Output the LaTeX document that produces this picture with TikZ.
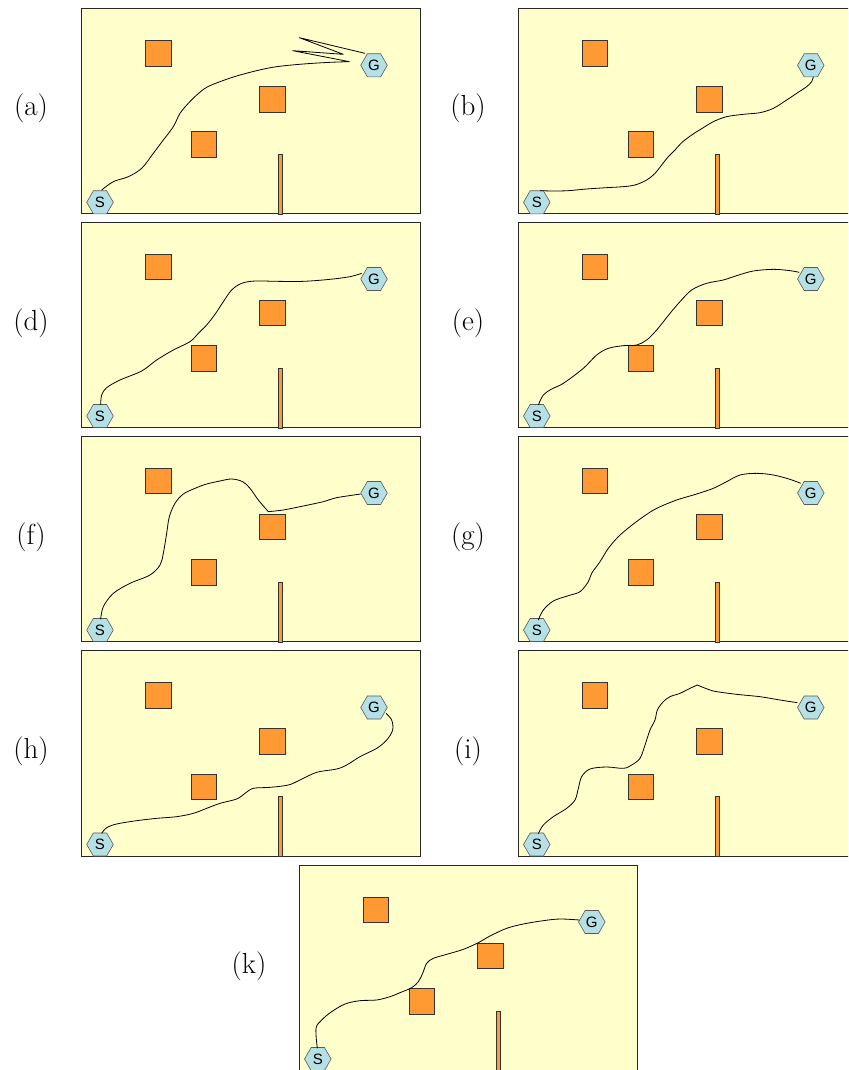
\documentclass[tikz,border=0pt]{standalone}
\usepackage{fontspec}
\newfontfamily\hexfont{Liberation Sans}
\usetikzlibrary{shapes.geometric}
\definecolor{envbg}{RGB}{255,255,204}
\definecolor{obstcol}{RGB}{255,153,51}
\definecolor{hexfill}{RGB}{180,224,230}
\tikzset{
  panelbox/.style={draw=black!85, line width=0.8pt, fill=envbg},
  obstacle/.style={rectangle, draw=black!80, line width=0.7pt, fill=obstcol, minimum size=25.5pt, inner sep=0pt},
  barstyle/.style={draw=black!80, line width=0.7pt, fill=obstcol},
  hexnode/.style={regular polygon, regular polygon sides=6, minimum size=26.6pt, inner sep=0pt, draw=black!65, line width=0.6pt, fill=hexfill, font=\hexfont\fontsize{15}{15}\selectfont},
  route/.style={draw=black, line width=0.8pt, line join=round},
  lab/.style={font=\fontsize{29}{34}\selectfont, inner sep=0pt}
}
\newcommand\envpanel[3]{%
  \begin{scope}[shift={(#1,#2)}]
    \draw[panelbox] (0,0) rectangle (338.5,205.5);
    \node[obstacle] (#3o1) at (76.7,45) {};
    \node[obstacle] (#3o2) at (191,91) {};
    \node[obstacle] (#3o3) at (122.5,136.3) {};
    \draw[barstyle] (196.8,146) rectangle (200.8,206);
    \node[hexnode] (#3S) at (18.5,194) {S};
    \node[hexnode] (#3G) at (292.5,57) {G};
  \end{scope}}
\begin{document}
\begin{tikzpicture}[x=1pt,y=-1pt]
\useasboundingbox (0,0) rectangle (848,1070);
\begin{scope}
\clip (0,0) rectangle (848,1070);
\envpanel{81.5}{8.3}{a}
\envpanel{518.3}{8.3}{b}
\envpanel{81.5}{222}{d}
\envpanel{518.3}{222}{e}
\envpanel{81.5}{436}{f}
\envpanel{518.3}{436}{g}
\envpanel{81.5}{650.5}{h}
\envpanel{518.3}{650.5}{i}
\envpanel{299.3}{865}{k}

% (a)
\begin{scope}[shift={(70,0)},x=0.33333pt,y=-0.33333pt]
\draw[route] plot[smooth,tension=0.55] coordinates {(95,570) (130,545) (175,530) (215,505) (250,460) (280,420) (310,380) (330,340) (355,310) (380,285) (410,262) (450,245) (500,228) (560,212) (620,200) (700,192) (780,187) (838,185)}
  -- (668,152) -- (820,163) -- (688,113) -- (885,160);
\end{scope}
% (b)
\begin{scope}[shift={(510,0)},x=0.33333pt,y=-0.33333pt]
\draw[route] plot[smooth,tension=0.55] coordinates {(90,572) (130,573) (175,572) (230,567) (290,563) (340,560) (375,555) (410,540) (435,520) (455,495) (475,470) (495,450) (515,428) (545,405) (580,383) (610,365) (650,350) (700,343) (750,338) (790,325) (830,300) (860,280) (890,260) (905,245) (910,230)};
\end{scope}
% (d)
\begin{scope}[shift={(70,215)},x=0.33333pt,y=-0.33333pt]
\draw[route] plot[smooth,tension=0.55] coordinates {(92,570) (95,540) (110,518) (150,495) (215,468) (260,435) (310,405) (360,380) (385,355) (410,330) (435,298) (460,260) (485,225) (515,205) (555,198) (620,199) (700,199) (780,193) (840,185) (875,175)};
\end{scope}
% (e)
\begin{scope}[shift={(510,215)},x=0.33333pt,y=-0.33333pt]
\draw[route] plot[smooth,tension=0.55] coordinates {(85,570) (100,540) (125,522) (160,505) (220,460) (260,420) (295,400) (340,392) (380,390) (410,375) (440,345) (480,295) (510,260) (545,225) (590,205) (640,195) (680,182) (730,168) (790,163) (840,167) (868,172)};
\end{scope}
% (f)
\begin{scope}[shift={(70,430)},x=0.33333pt,y=-0.33333pt]
\draw[route] plot[smooth,tension=0.55] coordinates {(92,568) (100,530) (130,490) (180,460) (240,435) (270,405) (280,370) (290,310) (298,260) (315,220) (340,192) (375,175) (410,162) (450,153) (485,147) (518,155) (540,175) (565,210) (595,245)}
  -- plot[smooth,tension=0.4] coordinates {(595,245) (640,240) (700,228) (760,215) (800,203) (872,192)};
\end{scope}
% (g)
\begin{scope}[shift={(510,430)},x=0.33333pt,y=-0.33333pt]
\draw[route] plot[smooth,tension=0.55] coordinates {(85,570) (100,540) (130,513) (175,497) (210,485) (235,455) (245,430) (270,395) (295,355) (325,320) (360,290) (400,260) (440,235) (500,210) (560,192) (610,175) (650,155) (690,135) (740,130) (790,135) (840,148) (872,160)};
\end{scope}
% (h)
\begin{scope}[shift={(70,645)},x=0.33333pt,y=-0.33333pt]
\draw[route] plot[smooth,tension=0.55] coordinates {(95,565) (110,548) (140,537) (200,527) (260,520) (320,515) (370,505) (410,490) (450,475) (500,462) (525,445) (550,430) (600,427) (655,420) (690,405) (740,382) (800,372) (830,360) (870,335) (920,310) (950,285) (968,255) (965,225) (948,205)};
\end{scope}
% (i)
\begin{scope}[shift={(510,645)},x=0.33333pt,y=-0.33333pt]
\draw[route] plot[smooth,tension=0.55] coordinates {(85,566) (100,540) (130,515) (170,490) (195,465) (205,430) (215,395) (240,372) (290,366) (340,370) (365,360) (390,340) (405,300) (420,255) (435,225) (442,195) (460,170) (480,155) (510,145) (540,130) (562,120)}
  -- plot[smooth,tension=0.4] coordinates {(562,120) (610,138) (680,148) (750,155) (810,165) (862,173)};
\end{scope}
% (k)
\begin{scope}[shift={(290,860)},x=0.33333pt,y=-0.33333pt]
\draw[route] plot[smooth,tension=0.55] coordinates {(82,565) (78,505) (95,480) (125,455) (165,432) (210,422) (260,420) (300,410) (330,398) (365,383) (385,365) (398,340) (410,310) (430,295) (470,283) (520,268) (565,248) (600,228) (650,205) (700,192) (760,182) (810,177) (868,180)};
\end{scope}
\end{scope}

\node[lab] (la) at (31,108) {(a)};
\node[lab] (lb) at (468,108) {(b)};
\node[lab] (ld) at (31,323) {(d)};
\node[lab] (le) at (468,323) {(e)};
\node[lab] (lf) at (31,537) {(f)};
\node[lab] (lg) at (468,537) {(g)};
\node[lab] (lh) at (31,751) {(h)};
\node[lab] (li) at (468,751) {(i)};
\node[lab] (lk) at (249,966) {(k)};
\end{tikzpicture}
\end{document}
